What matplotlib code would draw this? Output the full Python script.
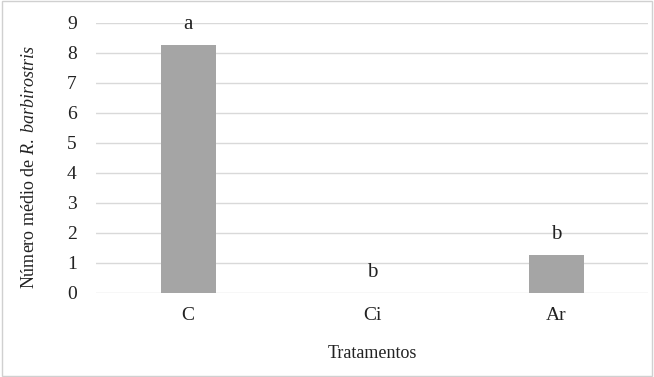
import matplotlib
matplotlib.use("Agg")
import matplotlib.pyplot as plt
from matplotlib.patches import Rectangle

categories = ["C", "Ci", "Ar"]
values = [8.25, 0.0, 1.25]
letters = ["a", "b", "b"]

plt.rcParams['font.family'] = ['Liberation Serif', 'DejaVu Serif']
plt.rcParams['mathtext.fontset'] = 'custom'
plt.rcParams['mathtext.rm'] = 'Liberation Serif'
plt.rcParams['mathtext.it'] = 'Liberation Serif:italic'

fig = plt.figure(figsize=(6.54, 3.77), dpi=100)
ax = fig.add_axes([0.147, 0.223, 0.844, 0.716])

x = range(len(categories))
ax.bar(x, values, width=0.3, color='#a5a5a5', zorder=3)
for xi, v, l in zip(x, values, letters):
    ax.annotate(l, (xi, v), xytext=(0, 8), textcoords='offset points',
                ha='center', va='bottom', fontsize=15, color='#222222')

ax.set_xlim(-0.5, 2.5)
ax.set_ylim(0, 9)
ax.set_yticks(range(0, 10))
ax.set_xticks(list(x))
ax.set_xticklabels(categories)
ax.tick_params(axis='both', length=0, labelsize=14, colors='#222222')
ax.tick_params(axis='y', pad=14)
ax.tick_params(axis='x', pad=10)
ax.grid(axis='y', color='#d9d9d9', linewidth=1, zorder=0)
for s in ax.spines.values():
    s.set_visible(False)

ax.set_ylabel(r'Número médio de $\mathit{R.\ barbirostris}$', fontsize=13, color='#222222')
ax.yaxis.set_label_coords(-0.105, 0.467)
ax.set_xlabel('Tratamentos', fontsize=13, color='#222222', labelpad=15)

fig.patches.append(Rectangle((0.003, 0.003), 0.994, 0.994, transform=fig.transFigure,
                             fill=False, edgecolor='#d0d0d0', linewidth=1))

fig.savefig('out.png', dpi=100)
